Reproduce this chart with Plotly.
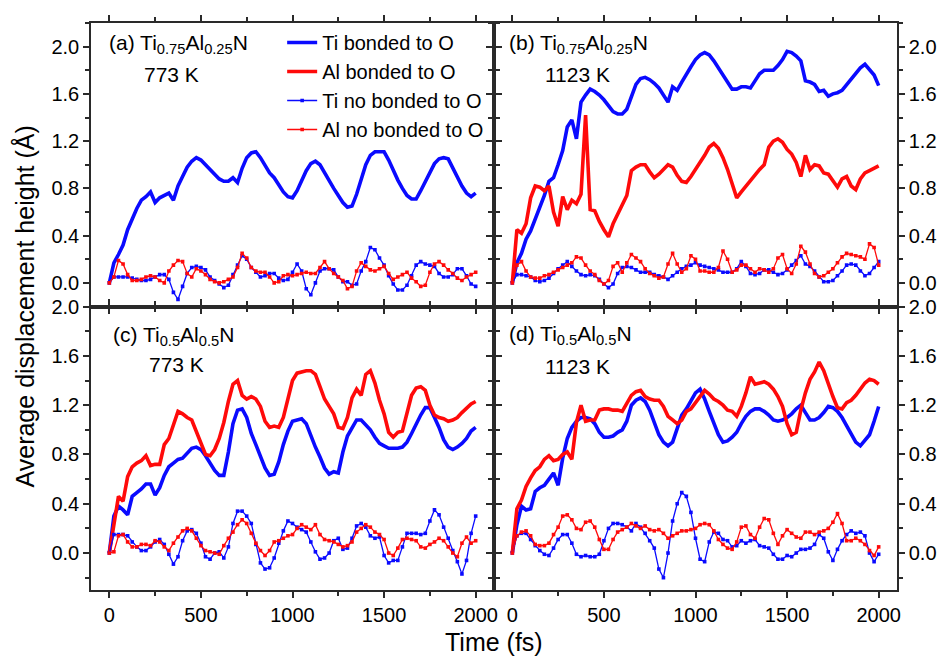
import plotly.graph_objects as go
from plotly.subplots import make_subplots

# Simulation time axis (fs), sampled every 25 fs
time_fs = list(range(0, 2001, 25))

# (a) Ti0.75Al0.25N, 773 K
a_ti_bonded = [
    0.0, 0.17, 0.24, 0.32, 0.45, 0.54, 0.63, 0.70, 0.73, 0.77,
    0.68, 0.72, 0.74, 0.76, 0.70, 0.82, 0.90, 0.98, 1.03, 1.06,
    1.04, 1.00, 0.96, 0.92, 0.88, 0.86, 0.86, 0.89, 0.85, 0.97,
    1.06, 1.10, 1.11, 1.06, 0.99, 0.93, 0.89, 0.83, 0.77, 0.73,
    0.72, 0.78, 0.86, 0.95, 1.01, 1.03, 1.00, 0.93, 0.87, 0.80,
    0.74, 0.68, 0.64, 0.65, 0.75, 0.88, 1.00, 1.08, 1.11, 1.11,
    1.11, 1.04, 0.95, 0.87, 0.80, 0.74, 0.71, 0.71, 0.78, 0.86,
    0.94, 1.01, 1.05, 1.06, 1.05, 0.97, 0.89, 0.82, 0.76, 0.73,
    0.76]
a_ti_free = [
    0.0, 0.05, 0.05, 0.05, 0.05, 0.04, 0.03, 0.02, 0.02, 0.03,
    0.05, 0.07, 0.07, 0.03, -0.08, -0.14, -0.03, 0.08, 0.13, 0.14,
    0.13, 0.11, 0.05, 0.02, -0.01, -0.04, -0.02, 0.07, 0.15, 0.23,
    0.20, 0.13, 0.09, 0.05, 0.06, 0.08, 0.08, 0.04, 0.02, 0.03,
    0.09, 0.16, 0.10, -0.05, -0.10, 0.0, 0.10, 0.12, 0.12, 0.11,
    0.05, 0.01, 0.01, -0.02, -0.01, 0.10, 0.18, 0.30, 0.28, 0.21,
    0.15, 0.06, -0.01, -0.06, -0.06, -0.02, 0.06, 0.15, 0.18, 0.16,
    0.15, 0.14, 0.08, 0.05, 0.05, 0.07, 0.12, 0.12, 0.06, -0.01,
    -0.03]
a_al_free = [
    0.0, 0.05, 0.19, 0.16, 0.07, 0.02, 0.02, 0.03, 0.05, 0.06,
    0.05, 0.02, 0.0, 0.10, 0.15, 0.19, 0.18, 0.08, 0.05, 0.12,
    0.10, 0.07, 0.03, 0.01, 0.0, 0.01, 0.03, 0.05, 0.13, 0.25,
    0.21, 0.13, 0.10, 0.09, 0.09, 0.05, 0.0, 0.01, 0.06, 0.07,
    0.06, 0.07, 0.08, 0.09, 0.08, 0.08, 0.13, 0.18, 0.12, 0.08,
    0.05, 0.02, -0.05, -0.03, 0.10, 0.17, 0.14, 0.11, 0.10, 0.12,
    0.14, 0.08, 0.03, 0.05, 0.07, 0.09, 0.04, 0.01, -0.03, -0.02,
    0.09, 0.16, 0.18, 0.15, 0.11, 0.08, 0.04, 0.02, 0.05, 0.07,
    0.09]

# (b) Ti0.75Al0.25N, 1123 K
b_ti_bonded = [
    0.0, 0.17, 0.25, 0.37, 0.44, 0.54, 0.62, 0.74, 0.86, 0.89,
    1.00, 1.12, 1.32, 1.38, 1.22, 1.53, 1.59, 1.64, 1.62, 1.59,
    1.55, 1.50, 1.45, 1.43, 1.43, 1.47, 1.58, 1.68, 1.73, 1.74,
    1.72, 1.69, 1.65, 1.59, 1.53, 1.66, 1.63, 1.70, 1.77, 1.83,
    1.89, 1.93, 1.95, 1.93, 1.88, 1.82, 1.75, 1.70, 1.64, 1.64,
    1.66, 1.66, 1.65, 1.71, 1.77, 1.80, 1.80, 1.80, 1.84, 1.89,
    1.96, 1.95, 1.92, 1.88, 1.71, 1.70, 1.68, 1.62, 1.63, 1.58,
    1.60, 1.61, 1.63, 1.68, 1.73, 1.78, 1.82, 1.85, 1.81, 1.76,
    1.67]
b_al_bonded = [
    0.0, 0.45, 0.42, 0.50, 0.72, 0.82, 0.81, 0.78, 0.82, 0.60,
    0.48, 0.73, 0.62, 0.70, 0.67, 0.75, 1.42, 0.62, 0.61, 0.52,
    0.45, 0.39, 0.50, 0.58, 0.66, 0.74, 0.95, 0.98, 1.00, 1.00,
    0.94, 0.89, 0.92, 0.96, 1.00, 0.98, 0.91, 0.86, 0.85, 0.90,
    0.96, 1.01, 1.08, 1.15, 1.18, 1.14, 1.06, 0.96, 0.83, 0.72,
    0.77, 0.82, 0.87, 0.92, 0.96, 1.00, 1.15, 1.20, 1.22, 1.19,
    1.13, 1.09, 1.02, 0.90, 1.08, 0.96, 1.00, 0.99, 0.93, 0.92,
    0.86, 0.81, 0.88, 0.90, 0.82, 0.79, 0.88, 0.93, 0.95, 0.97,
    0.99]
b_ti_free = [
    0.0, 0.07, 0.07, 0.06, 0.05, 0.02, 0.01, 0.02, 0.04, 0.08,
    0.12, 0.15, 0.18, 0.14, 0.10, 0.07, 0.06, 0.07, 0.06, 0.03,
    -0.01, -0.04, -0.01, 0.08, 0.13, 0.14, 0.13, 0.11, 0.09, 0.09,
    0.09, 0.07, 0.06, 0.05, 0.03, 0.06, 0.09, 0.12, 0.14, 0.15,
    0.17, 0.15, 0.14, 0.13, 0.12, 0.11, 0.09, 0.09, 0.09, 0.12,
    0.18, 0.14, 0.08, 0.07, 0.08, 0.11, 0.11, 0.09, 0.07, 0.08,
    0.11, 0.15, 0.19, 0.23, 0.16, 0.14, 0.10, 0.05, 0.01, 0.01,
    0.02, 0.06, 0.10, 0.15, 0.16, 0.15, 0.10, 0.06, 0.08, 0.13,
    0.18]
b_al_free = [
    0.0, 0.15, 0.18, 0.10, 0.05, 0.04, 0.04, 0.06, 0.07, 0.09,
    0.11, 0.13, 0.15, 0.17, 0.22, 0.21, 0.15, 0.10, 0.07, 0.02,
    -0.01, 0.02, 0.14, 0.17, 0.09, 0.17, 0.24, 0.21, 0.18, 0.12,
    0.08, 0.06, 0.04, 0.05, 0.16, 0.25, 0.16, 0.09, 0.12, 0.23,
    0.20, 0.10, 0.10, 0.09, 0.09, 0.13, 0.27, 0.20, 0.09, 0.11,
    0.15, 0.15, 0.12, 0.09, 0.12, 0.11, 0.09, 0.12, 0.21, 0.24,
    0.12, 0.08, 0.16, 0.31, 0.26, 0.16, 0.08, 0.05, 0.06, 0.09,
    0.12, 0.17, 0.22, 0.25, 0.24, 0.23, 0.22, 0.20, 0.33, 0.30,
    0.15]

# (c) Ti0.5Al0.5N, 773 K
c_ti_bonded = [
    0.0, 0.30, 0.38, 0.35, 0.31, 0.46, 0.49, 0.52, 0.56, 0.56,
    0.47, 0.53, 0.63, 0.70, 0.73, 0.76, 0.77, 0.81, 0.85, 0.86,
    0.84, 0.79, 0.73, 0.67, 0.63, 0.63, 0.82, 1.05, 1.16, 1.17,
    1.10, 0.97, 0.88, 0.79, 0.69, 0.63, 0.64, 0.74, 0.88, 0.99,
    1.07, 1.08, 1.09, 1.05, 0.95, 0.86, 0.78, 0.69, 0.64, 0.66,
    0.65, 0.82, 0.95, 1.02, 1.08, 1.08, 1.04, 1.00, 0.94, 0.89,
    0.87, 0.85, 0.85, 0.85, 0.86, 0.90, 0.97, 1.05, 1.12, 1.18,
    1.18, 1.10, 1.02, 0.92, 0.86, 0.84, 0.86, 0.89, 0.93, 0.99,
    1.02]
c_al_bonded = [
    0.0, 0.25, 0.46, 0.42, 0.62, 0.70, 0.73, 0.75, 0.79, 0.71,
    0.72, 0.72, 0.88, 0.93, 1.05, 1.15, 1.13, 1.10, 1.08, 0.98,
    0.88, 0.80, 0.79, 0.84, 0.93, 1.06, 1.23, 1.37, 1.40, 1.28,
    1.25, 1.27, 1.25, 1.19, 1.07, 1.02, 1.03, 1.02, 1.10, 1.25,
    1.40, 1.46, 1.47, 1.48, 1.48, 1.45, 1.35, 1.25, 1.19, 1.13,
    1.02, 1.01, 1.10, 1.26, 1.33, 1.28, 1.45, 1.48, 1.38, 1.24,
    1.13, 0.98, 0.94, 0.98, 0.99, 1.14, 1.28, 1.34, 1.35, 1.32,
    1.20, 1.12, 1.10, 1.09, 1.07, 1.08, 1.10, 1.14, 1.18, 1.21,
    1.23]
c_ti_free = [
    0.0, 0.15, 0.15, 0.15, 0.14, 0.09, 0.05, 0.02, 0.02, 0.05,
    0.09, 0.11, 0.07, -0.01, -0.09, -0.03, 0.10, 0.18, 0.19, 0.16,
    0.08, -0.03, -0.05, 0.0, 0.01, -0.04, 0.05, 0.24, 0.34, 0.34,
    0.30, 0.24, 0.07, -0.08, -0.13, -0.12, -0.04, 0.08, 0.18, 0.26,
    0.24, 0.21, 0.19, 0.17, 0.09, 0.01, -0.05, -0.04, 0.0, 0.10,
    0.12, 0.03, 0.04, 0.12, 0.22, 0.24, 0.21, 0.14, 0.12, 0.13,
    -0.02, -0.08, -0.06, -0.06, 0.05, 0.16, 0.16, 0.16, 0.15, 0.16,
    0.26, 0.35, 0.31, 0.21, 0.12, 0.02, -0.07, -0.17, -0.06, 0.16,
    0.30]
c_al_free = [
    0.0, 0.01, 0.14, 0.15, 0.09, 0.05, 0.05, 0.07, 0.07, 0.06,
    0.10, 0.09, 0.05, 0.02, 0.08, 0.13, 0.18, 0.20, 0.18, 0.12,
    0.06, 0.02, 0.01, 0.0, -0.01, 0.06, 0.12, 0.17, 0.23, 0.27,
    0.24, 0.16, 0.08, 0.02, -0.02, 0.02, 0.09, 0.10, 0.12, 0.14,
    0.15, 0.20, 0.23, 0.21, 0.19, 0.23, 0.15, 0.11, 0.10, 0.09,
    0.07, 0.05, 0.06, 0.09, 0.17, 0.20, 0.23, 0.21, 0.17, 0.15,
    0.11, 0.0, -0.02, 0.04, 0.11, 0.12, 0.11, 0.10, 0.05, 0.04,
    0.07, 0.09, 0.12, 0.10, 0.05, 0.0, -0.03, 0.08, 0.13, 0.08,
    0.10]

# (d) Ti0.5Al0.5N, 1123 K
d_ti_bonded = [
    0.0, 0.23, 0.38, 0.35, 0.36, 0.50, 0.53, 0.55, 0.60, 0.65,
    0.55, 0.77, 0.93, 1.02, 1.07, 1.10, 1.10, 1.09, 1.05, 0.98,
    0.94, 0.94, 0.95, 0.98, 1.00, 1.07, 1.20, 1.24, 1.26, 1.23,
    1.16, 1.06, 0.96, 0.90, 0.87, 0.90, 1.02, 1.12, 1.17, 1.24,
    1.30, 1.33, 1.25, 1.15, 1.06, 0.96, 0.90, 0.91, 0.94, 0.98,
    1.05, 1.11, 1.15, 1.17, 1.17, 1.15, 1.12, 1.08, 1.07, 1.08,
    1.10, 1.13, 1.17, 1.20, 1.14, 1.08, 1.08, 1.10, 1.14, 1.19,
    1.18, 1.15, 1.10, 1.03, 0.96, 0.90, 0.87, 0.91, 0.96, 1.07,
    1.19]
d_al_bonded = [
    0.0, 0.36, 0.43, 0.54, 0.61, 0.67, 0.70, 0.76, 0.79, 0.75,
    0.76, 0.80, 0.82, 0.76, 1.06, 1.20, 1.07, 1.08, 1.08, 1.16,
    1.17, 1.17, 1.16, 1.16, 1.15, 1.21, 1.28, 1.31, 1.32, 1.27,
    1.25, 1.24, 1.24, 1.19, 1.11, 1.08, 1.05, 1.08, 1.15, 1.17,
    1.22, 1.28, 1.32, 1.29, 1.25, 1.23, 1.20, 1.16, 1.15, 1.11,
    1.19, 1.30, 1.43, 1.37, 1.38, 1.39, 1.37, 1.33, 1.27, 1.19,
    1.05, 0.96, 0.98, 1.16, 1.30, 1.41, 1.47, 1.55, 1.48, 1.37,
    1.27, 1.18, 1.17, 1.22, 1.24, 1.28, 1.33, 1.38, 1.41, 1.40,
    1.37]
d_ti_free = [
    0.0, 0.14, 0.16, 0.16, 0.11, 0.06, 0.02, -0.01, -0.02, 0.04,
    0.11, 0.15, 0.15, 0.08, -0.01, -0.03, -0.02, -0.03, -0.03, -0.01,
    0.10, 0.20, 0.24, 0.24, 0.23, 0.21, 0.18, 0.24, 0.21, 0.16,
    0.10, 0.04, -0.13, -0.20, 0.0, 0.26, 0.40, 0.49, 0.46, 0.33,
    0.12, -0.05, -0.07, 0.09, 0.17, 0.16, 0.11, 0.10, 0.05, 0.06,
    0.10, 0.08, 0.10, 0.11, 0.06, 0.05, 0.04, -0.01, -0.05, -0.05,
    -0.02, -0.03, 0.0, 0.03, 0.03, 0.04, 0.07, 0.15, 0.12, 0.01,
    -0.06, 0.03, 0.10, 0.15, 0.18, 0.16, 0.17, 0.14, 0.0, -0.07,
    -0.01]
d_al_free = [
    0.0, 0.14, 0.17, 0.18, 0.14, 0.07, 0.06, 0.06, 0.08, 0.15,
    0.21, 0.30, 0.31, 0.27, 0.20, 0.19, 0.25, 0.26, 0.21, 0.11,
    0.03, 0.03, 0.11, 0.17, 0.19, 0.21, 0.24, 0.22, 0.20, 0.22,
    0.19, 0.18, 0.19, 0.16, 0.12, 0.14, 0.16, 0.18, 0.18, 0.19,
    0.20, 0.23, 0.24, 0.23, 0.18, 0.11, 0.07, 0.04, 0.03, 0.09,
    0.21, 0.22, 0.15, 0.12, 0.21, 0.28, 0.27, 0.16, 0.07, 0.14,
    0.19, 0.16, 0.13, 0.12, 0.17, 0.17, 0.15, 0.17, 0.18, 0.20,
    0.25, 0.32, 0.24, 0.10, 0.10, 0.12, 0.10, 0.07, 0.02, -0.02,
    0.05]

series_names = ["Ti bonded to O", "Al bonded to O",
                "Ti no bonded to O", "Al no bonded to O"]
panel_titles = ["(a) Ti<sub>0.75</sub>Al<sub>0.25</sub>N",
                "(b) Ti<sub>0.75</sub>Al<sub>0.25</sub>N",
                "(c) Ti<sub>0.5</sub>Al<sub>0.5</sub>N",
                "(d) Ti<sub>0.5</sub>Al<sub>0.5</sub>N"]
panel_temps = ["773 K", "1123 K", "773 K", "1123 K"]
x_ticks = [0, 500, 1000, 1500, 2000]
y_ticks = [0.0, 0.4, 0.8, 1.2, 1.6, 2.0]

BLUE = "#0a0aff"
RED = "#ff0a0a"
FONT = "Liberation Sans, Arial, sans-serif"
AXIS_COLOR = "#2a2a2a"

fig = make_subplots(rows=2, cols=2, horizontal_spacing=0, vertical_spacing=0)

panels = [
    (1, 1, a_ti_bonded, None, a_ti_free, a_al_free, False),
    (1, 2, b_ti_bonded, b_al_bonded, b_ti_free, b_al_free, True),
    (2, 1, c_ti_bonded, c_al_bonded, c_ti_free, c_al_free, False),
    (2, 2, d_ti_bonded, d_al_bonded, d_ti_free, d_al_free, False),
]

for row, col, ti_b, al_b, ti_f, al_f, legend in panels:
    for k, (vals, color, thick) in enumerate([(ti_b, BLUE, True), (al_b, RED, True),
                                              (ti_f, BLUE, False), (al_f, RED, False)]):
        if vals is None:
            continue
        if thick:
            style = dict(mode="lines", line=dict(color=color, width=3.6))
        else:
            style = dict(mode="lines+markers", line=dict(color=color, width=1.3),
                         marker=dict(symbol="square", size=3.6, color=color))
        fig.add_trace(go.Scatter(x=time_fs, y=vals, name=series_names[k],
                                 showlegend=legend, legendrank=k + 1, **style),
                      row=row, col=col)

tick_style = dict(showline=True, linecolor=AXIS_COLOR, linewidth=1.5, mirror="ticks",
                  ticks="outside", ticklen=6, tickwidth=1.5, tickcolor=AXIS_COLOR,
                  showgrid=False, zeroline=False,
                  tickfont=dict(family=FONT, size=20, color="black"))

for row in (1, 2):
    for col in (1, 2):
        fig.update_xaxes(range=[-100, 2100], tickvals=x_ticks,
                         showticklabels=(row == 2),
                         minor=dict(dtick=250, tick0=0, ticks="outside", ticklen=4,
                                    tickwidth=1.5, tickcolor=AXIS_COLOR),
                         row=row, col=col, **tick_style)
        yr = [-0.2, 2.2] if row == 1 else [-0.3, 2.001]
        fig.update_yaxes(range=yr, tickvals=y_ticks, tickformat=".1f",
                         side="left" if col == 1 else "right",
                         minor=dict(dtick=0.2, tick0=0, ticks="outside", ticklen=4,
                                    tickwidth=1.5, tickcolor=AXIS_COLOR),
                         row=row, col=col, **tick_style)

L, R, T, B = 91, 40, 12, 71
W, H = 949, 661
PW, PH = W - L - R, H - T - B


def px_x(px):
    return (px - L) / PW


def px_y(py):
    return (H - B - py) / PH


label_pos = [((107, 33), (143, 64)), ((513, 33), (550, 64)),
             ((111, 331), (148, 360)), ((513, 330), (550, 362))]
annotations = []
for title, temp, ((x1, y1), (x2, y2)) in zip(panel_titles, panel_temps, label_pos):
    annotations.append(dict(text=title, x=px_x(x1), y=px_y(y1), xref="paper", yref="paper",
                            xanchor="left", yanchor="middle", showarrow=False,
                            font=dict(family=FONT, size=21, color="black")))
    annotations.append(dict(text=temp, x=px_x(x2), y=px_y(y2), xref="paper", yref="paper",
                            xanchor="left", yanchor="middle", showarrow=False,
                            font=dict(family=FONT, size=21, color="black")))

annotations.append(dict(text="Average displacement height (Å)", textangle=-90,
                        x=px_x(24), y=0.5, xref="paper", yref="paper",
                        xanchor="center", yanchor="middle", showarrow=False,
                        font=dict(family=FONT, size=25, color="black")))
annotations.append(dict(text="Time (fs)", x=0.5, y=px_y(643), xref="paper", yref="paper",
                        xanchor="center", yanchor="middle", showarrow=False,
                        font=dict(family=FONT, size=25, color="black")))

fig.update_layout(
    width=W, height=H,
    margin=dict(l=L, r=R, t=T, b=B),
    paper_bgcolor="white", plot_bgcolor="white",
    font=dict(family=FONT, size=20, color="black"),
    legend=dict(x=px_x(285), y=px_y(12), xanchor="left", yanchor="top",
                bgcolor="rgba(0,0,0,0)", borderwidth=0, tracegroupgap=0,
                font=dict(family=FONT, size=20, color="black"), itemwidth=30),
    annotations=annotations,
)

fig.write_html("out.html")
